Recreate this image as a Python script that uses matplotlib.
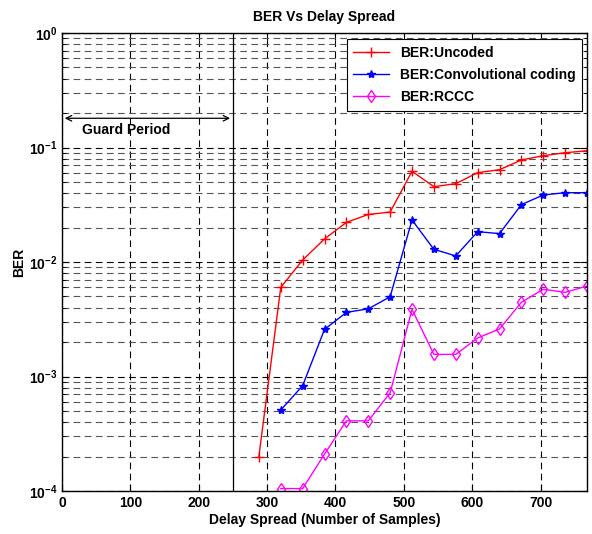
import matplotlib
matplotlib.use("Agg")
import matplotlib.pyplot as plt
from matplotlib.ticker import LogLocator, FixedLocator, NullFormatter

plt.rcParams['font.family'] = ['Liberation Sans', 'DejaVu Sans']
plt.rcParams['font.weight'] = 'bold'
plt.rcParams['mathtext.fontset'] = 'custom'
plt.rcParams['mathtext.rm'] = 'Liberation Sans:bold'
plt.rcParams['mathtext.bf'] = 'Liberation Sans:bold'
plt.rcParams['mathtext.default'] = 'bf'

delay = [288, 320, 352, 384, 416, 448, 480, 512, 544, 576, 608, 640, 672, 704, 736, 768]
ber_uncoded = [2.0e-4, 6.0e-3, 0.0104, 0.0159, 0.0222, 0.026, 0.0273, 0.062, 0.0455,
               0.0483, 0.0603, 0.064, 0.0778, 0.0848, 0.090, 0.0937]
delay_cc = delay[1:]
ber_conv = [5.1e-4, 8.3e-4, 2.58e-3, 3.63e-3, 3.9e-3, 4.97e-3, 0.0233, 0.0129, 0.0113,
            0.0184, 0.0177, 0.0317, 0.0385, 0.0403, 0.0403]
ber_rccc = [1.05e-4, 1.05e-4, 2.1e-4, 4.1e-4, 4.1e-4, 7.2e-4, 3.86e-3, 1.56e-3, 1.56e-3,
            2.17e-3, 2.6e-3, 4.45e-3, 5.78e-3, 5.43e-3, 6.17e-3]
guard_period = 250
x_ticks = [0, 100, 200, 300, 400, 500, 600, 700]

fig = plt.figure(figsize=(5.92, 5.34), dpi=100)
ax = fig.add_axes([0.1047, 0.0805, 0.8869, 0.8577])

ax.semilogy(delay, ber_uncoded, '-', color='red', marker='+', markersize=7, lw=1,
            label='BER:Uncoded')
ax.semilogy(delay_cc, ber_conv, '-', color='blue', marker='*', markersize=6, lw=1,
            label='BER:Convolutional coding')
ax.semilogy(delay_cc, ber_rccc, '-', color='magenta', marker='d', markersize=6.5, lw=1,
            markerfacecolor='none', label='BER:RCCC')

ax.set_xlim(0, 768)
ax.set_ylim(1e-4, 1)
ax.xaxis.set_major_locator(FixedLocator(x_ticks))
ax.yaxis.set_major_locator(LogLocator(base=10, numticks=10))
ax.yaxis.set_minor_locator(LogLocator(base=10, subs=range(2, 10), numticks=20))
ax.yaxis.set_minor_formatter(NullFormatter())

ax.grid(True, which='major', axis='both', color='black', linestyle=(0, (6, 4)), lw=0.8)
ax.grid(True, which='minor', axis='y', color='#555555', linestyle=(0, (6, 4)), lw=0.8)

ax.tick_params(which='both', direction='in', top=True, right=True, labelsize=10)
ax.tick_params(which='major', length=5)
ax.tick_params(which='minor', length=3)
for lab in ax.get_xticklabels() + ax.get_yticklabels():
    lab.set_fontweight('bold')
for sp in ax.spines.values():
    sp.set_linewidth(1.0)

ax.axvline(guard_period, color='black', lw=0.9)
ax.annotate('', xy=(0, 0.18), xytext=(guard_period, 0.18),
            arrowprops=dict(arrowstyle='<->', color='black', lw=0.9))
ax.text(29, 0.142, 'Guard Period', fontsize=10, fontweight='bold', va='center', ha='left')

ax.set_title('BER Vs Delay Spread', fontsize=10, fontweight='bold', pad=9)
ax.set_xlabel('Delay Spread (Number of Samples)', fontsize=10, fontweight='bold', labelpad=2)
ax.set_ylabel('BER', fontsize=10, fontweight='bold', labelpad=2)

leg = ax.legend(loc='upper right', bbox_to_anchor=(0.991, 0.986), fontsize=10,
                frameon=True, fancybox=False, edgecolor='black', framealpha=1,
                borderpad=0.45, handlelength=2.6, labelspacing=0.6, borderaxespad=0)
leg.get_frame().set_linewidth(0.8)
for t in leg.get_texts():
    t.set_fontweight('bold')

fig.savefig('out.png', dpi=100)
